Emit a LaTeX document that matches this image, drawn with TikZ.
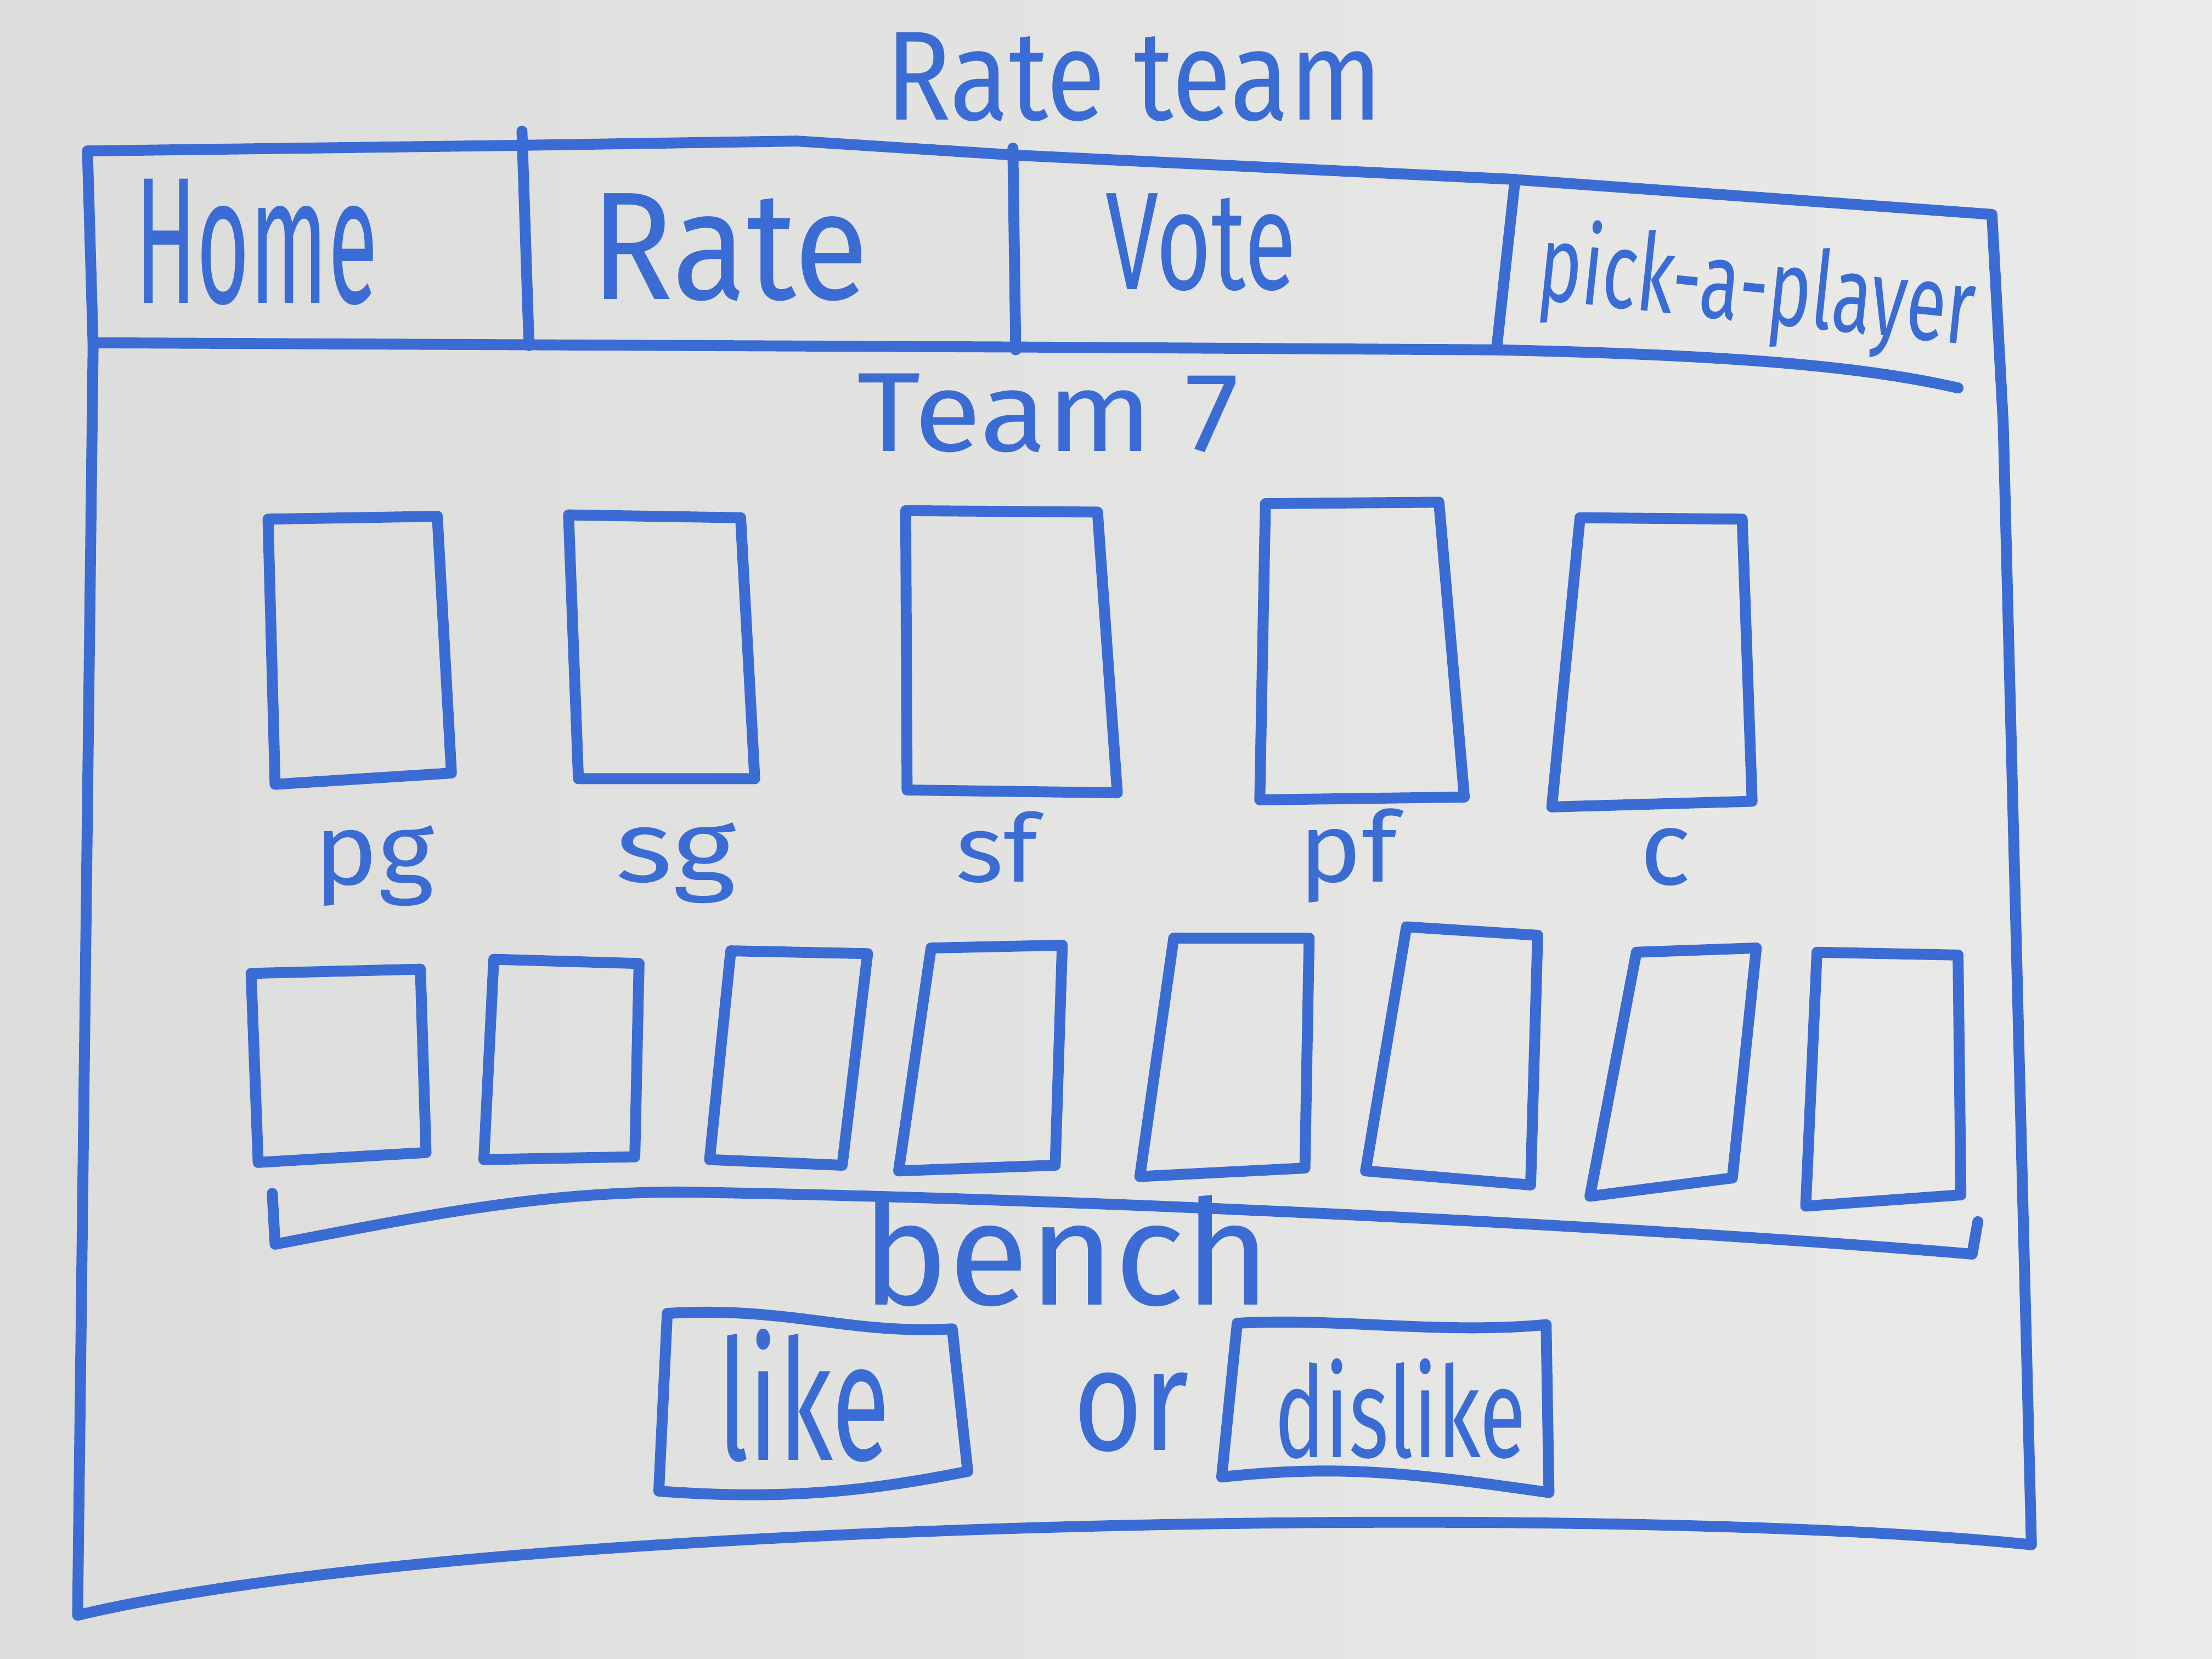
\documentclass[tikz,border=0pt]{standalone}
\usepackage{fontspec}
\setmainfont{Fira Sans}
\usepackage{graphicx}
\newlength\hwu \setlength\hwu{0.01cm}
\newcommand\hw[3]{\resizebox{#1\hwu}{#2\hwu}{#3}}
\definecolor{marker}{RGB}{58,108,212}
\definecolor{boardA}{RGB}{220,220,218}
\definecolor{boardB}{RGB}{234,234,232}
\begin{document}
\begin{tikzpicture}[x=0.01cm,y=-0.01cm,
  ink/.style={draw=marker,line width=2.2pt,line cap=round,line join=round},
  lbl/.style={text=marker,inner sep=0pt,anchor=base west}]
\shade[left color=boardA,right color=boardB] (0,0) rectangle (1568,1176);
\useasboundingbox (0,0) rectangle (1568,1176);

% title
\node[lbl] (title) at (627,85) {\hw{352}{62}{Rate team}};

% outer frame
\draw[ink] (62,107) -- (370,103) -- (565,100) -- (720,110) -- (1070,127) -- (1412,152)
  -- (1420,300) -- (1440,1095)
  .. controls (1150,1065) and (350,1075) .. (55,1145)
  -- (66,245) -- cycle;
% nav bar bottom line
\draw[ink] (68,243) -- (720,246) -- (1060,248) .. controls (1250,252) and (1330,262) .. (1388,275);
% nav dividers
\draw[ink] (370,93) -- (375,245);
\draw[ink] (718,105) -- (720,248);
\draw[ink] (1074,127) -- (1061,246);

% nav labels
\node[lbl] (home) at (95,215) {\hw{172}{88}{Home}};
\node[lbl] (rate) at (418,212) {\hw{197}{75}{Rate}};
\node[lbl] (vote) at (783,205) {\hw{135}{68}{Vote}};
\node[lbl,rotate=-6] (pick) at (1088,212) {\hw{310}{60}{pick-a-player}};

% team name
\node[lbl] (team) at (607,320) {\hw{271}{55}{Team 7}};

% starters
\draw[ink] (190,368) -- (310,366) -- (320,548) -- (195,556) -- cycle;
\draw[ink] (403,365) -- (525,367) -- (535,552) -- (410,552) -- cycle;
\draw[ink] (642,362) -- (778,363) -- (792,562) -- (643,560) -- cycle;
\draw[ink] (897,357) -- (1020,356) -- (1038,565) -- (893,567) -- cycle;
\draw[ink] (1120,367) -- (1235,368) -- (1242,568) -- (1100,572) -- cycle;

\node[lbl] (pg) at (222,627) {\hw{85}{42}{pg}};
\node[lbl] (sg) at (436,625) {\hw{85}{42}{sg}};
\node[lbl] (sf) at (677,625) {\hw{58}{50}{sf}};
\node[lbl] (pf) at (920,625) {\hw{70}{52}{pf}};
\node[lbl] (c) at (1162,627) {\hw{36}{40}{c}};

% bench
\draw[ink] (178,690) -- (298,687) -- (302,817) -- (183,824) -- cycle;
\draw[ink] (350,680) -- (453,683) -- (450,820) -- (343,822) -- cycle;
\draw[ink] (518,674) -- (615,676) -- (597,826) -- (503,822) -- cycle;
\draw[ink] (660,672) -- (753,670) -- (748,826) -- (637,830) -- cycle;
\draw[ink] (832,665) -- (928,665) -- (925,828) -- (808,834) -- cycle;
\draw[ink] (997,657) -- (1090,663) -- (1085,840) -- (968,830) -- cycle;
\draw[ink] (1160,675) -- (1245,672) -- (1228,835) -- (1127,848) -- cycle;
\draw[ink] (1288,675) -- (1388,677) -- (1390,847) -- (1280,855) -- cycle;

% bench bracket
\draw[ink] (193,846) -- (195,882) .. controls (300,862) and (380,845) .. (483,845)
  .. controls (800,850) and (1200,872) .. (1398,889) -- (1402,866);
\node[lbl] (bench) at (610,925) {\hw{290}{78}{bench}};

% like / dislike
\draw[ink] (473,931) .. controls (560,926) and (600,946) .. (675,942) -- (686,1043)
  .. controls (620,1056) and (560,1064) .. (467,1057) -- cycle;
\node[lbl] (like) at (508,1035) {\hw{122}{93}{like}};
\node[lbl] (or) at (760,1028) {\hw{82}{55}{or}};
\draw[ink] (877,938) .. controls (950,934) and (1020,946) .. (1096,939) -- (1098,1058)
  .. controls (1000,1044) and (950,1038) .. (866,1047) -- cycle;
\node[lbl] (dislike) at (903,1033) {\hw{178}{70}{dislike}};
\end{tikzpicture}
\end{document}
